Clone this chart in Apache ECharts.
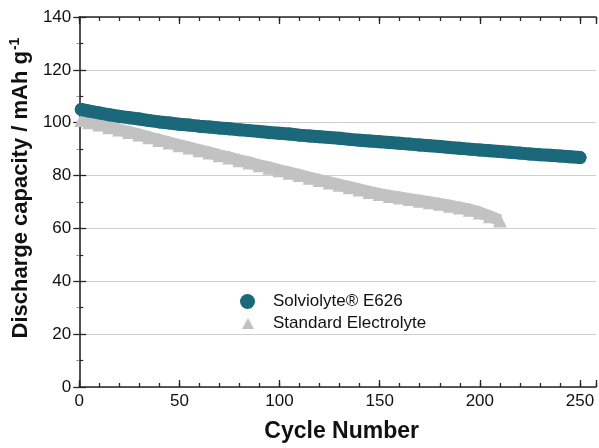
<!DOCTYPE html>
<html>
<head>
<meta charset="utf-8">
<script src="https://cdn.jsdelivr.net/npm/echarts@6/dist/echarts.min.js"></script>
<style>html,body{margin:0;padding:0;background:#fff}#c{width:599px;height:448px}</style>
</head>
<body>
<div id="c"></div>
<script>
const seriesNames = ['Solviolyte® E626', 'Standard Electrolyte'];
const xTitle = 'Cycle Number';
const yTitle = 'Discharge capacity / mAh g';
const yTitleSup = '-1';

const tealCycles = [1,5,10,15,20,25,30,35,40,45,50,55,60,65,70,75,80,85,90,95,100,105,110,115,120,125,130,135,140,145,150,155,160,165,170,175,180,185,190,195,200,205,210,215,220,225,230,235,240,245,250];
const tealValues = [105.0,104.4,103.7,103.0,102.4,101.9,101.4,100.8,100.3,99.9,99.4,99.1,98.7,98.4,98.0,97.7,97.3,97.0,96.7,96.3,96.0,95.7,95.3,95.0,94.7,94.4,94.1,93.7,93.4,93.1,92.8,92.5,92.2,91.9,91.6,91.3,91.0,90.6,90.3,90.0,89.7,89.4,89.1,88.8,88.5,88.2,87.9,87.7,87.4,87.1,86.8];

const grayCycles = [1,5,10,15,20,25,30,35,40,45,50,55,60,65,70,75,80,85,90,95,100,105,110,115,120,125,130,135,140,145,150,155,160,165,170,175,180,185,190,195,200,205,210];
const grayValues = [101.0,100.2,99.3,98.3,97.4,96.5,95.5,94.5,93.5,92.5,91.5,90.6,89.6,88.7,87.7,86.8,85.8,84.9,83.9,83.0,82.0,81.1,80.2,79.2,78.3,77.4,76.5,75.6,74.7,73.8,73.0,72.3,71.7,71.1,70.5,69.9,69.3,68.6,67.9,67.1,66.0,64.6,63.0];

const xMin = 0, xMax = 258, xMajor = 50, xMinor = 10;
const yMin = 0, yMax = 140, yMajor = 20;

const FONT = "'Liberation Sans', Arial, sans-serif";
const AX = '#262626';
const TEAL = '#1a687a';
const GRAY = '#c2c2c2';

function pairs(xs, ys){ return xs.map((x,i)=>[x, ys[i]]); }

const chart = echarts.init(document.getElementById('c'), null, {renderer:'canvas'});

function xAxisDef(pos, interval, tickLen, showLabel, showLine){
  return {
    type:'value', position: pos, min:xMin, max:xMax, interval: interval,
    axisLine:{show:showLine, onZero:false, lineStyle:{color:AX, width:1.6}},
    axisTick:{show:true, inside:true, length:tickLen, lineStyle:{color:AX, width:1.3}},
    axisLabel:{show:showLabel, color:'#111', fontFamily:FONT, fontSize:17, margin:6,
      formatter: v => (v % xMajor === 0 ? String(v) : '')},
    splitLine:{show:false},
    name: showLabel ? xTitle : '',
    nameLocation:'middle', nameGap:33,
    nameTextStyle:{fontFamily:FONT, fontSize:23, fontWeight:'bold', color:'#111', padding:[0,0,0,8]}
  };
}

const option = {
  backgroundColor:'#fff',
  animation:false,
  grid:{left:79, right:0, top:17, bottom:61, containLabel:false},
  legend:[
    {data:[{name:seriesNames[0], icon:'circle'}], left:235, top:288, itemWidth:15, itemHeight:15,
     textStyle:{fontFamily:FONT, fontSize:17, color:'#111', padding:[0,0,0,13]}},
    {data:[{name:seriesNames[1], icon:'triangle'}], left:237, top:310, itemWidth:12, itemHeight:11,
     textStyle:{fontFamily:FONT, fontSize:17, color:'#111', padding:[0,0,0,14]}}
  ],
  xAxis:[
    xAxisDef('bottom', xMajor, 7, true, true),
    xAxisDef('bottom', xMinor, 4, false, false),
    xAxisDef('top', xMajor, 7, false, true),
    xAxisDef('top', xMinor, 4, false, false)
  ],
  yAxis:[
    {type:'value', position:'left', min:yMin, max:yMax, interval:yMajor,
     axisLine:{show:true, lineStyle:{color:AX, width:1.6}},
     axisTick:{show:true, inside:true, length:7, lineStyle:{color:AX, width:1.3}},
     minorTick:{show:true, splitNumber:2, length:4, lineStyle:{color:AX, width:1.2}},
     axisLabel:{color:'#111', fontFamily:FONT, fontSize:17, margin:8},
     splitLine:{show:true, lineStyle:{color:'#cfcfcf', width:1}},
     name: '{a|' + yTitle + '}{s|' + yTitleSup + '}',
     nameLocation:'middle', nameGap:45, nameRotate:90,
     nameTextStyle:{padding:[0,0,0,28], rich:{
       a:{fontFamily:FONT, fontSize:22, fontWeight:'bold', color:'#111'},
       s:{fontFamily:FONT, fontSize:14, fontWeight:'bold', color:'#111', padding:[0,0,12,1]}
     }}
    },
    {type:'value', position:'right', min:yMin, max:yMax, interval:yMajor,
     axisLine:{show:false},
     axisTick:{show:true, inside:true, length:6, lineStyle:{color:AX, width:1.3}},
     minorTick:{show:true, splitNumber:2, length:3, lineStyle:{color:'#999', width:1}},
     axisLabel:{show:false}, splitLine:{show:false}}
  ],
  series:[
    {name:seriesNames[1], type:'line', xAxisIndex:0, yAxisIndex:0,
     data:pairs(grayCycles, grayValues), symbol:'triangle', symbolSize:14,
     itemStyle:{color:GRAY}, lineStyle:{color:GRAY, width:12}, z:2},
    {name:seriesNames[0], type:'line', xAxisIndex:0, yAxisIndex:0,
     data:pairs(tealCycles, tealValues), symbol:'circle', symbolSize:13,
     itemStyle:{color:TEAL}, lineStyle:{color:TEAL, width:13, cap:'round'}, z:3}
  ]
};
chart.setOption(option);
</script>
</body>
</html>
